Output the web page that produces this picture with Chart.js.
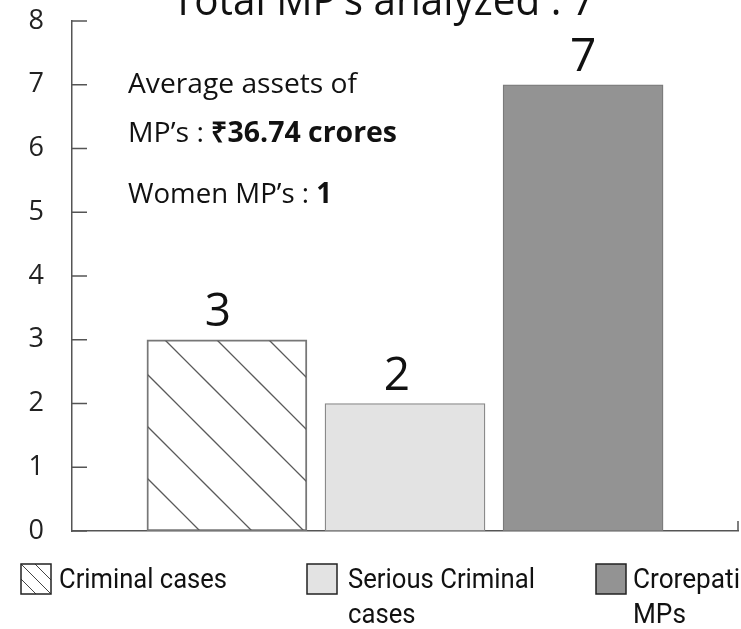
<!DOCTYPE html>
<html>
<head>
<meta charset="utf-8">
<script src="https://cdn.jsdelivr.net/npm/chart.js@4.4.1/dist/chart.umd.min.js"></script>
<style>
html, body { margin: 0; padding: 0; background: #fff; }
#wrap { width: 741px; height: 629px; }
</style>
</head>
<body>
<div id="wrap"><canvas id="chart" width="741" height="629"></canvas></div>
<script>
const categories = ['Criminal cases', 'Serious Criminal cases', 'Crorepati MPs'];
const values = [3, 2, 7];
const yTicks = [0, 1, 2, 3, 4, 5, 6, 7, 8];
const legendLines = [['Criminal cases'], ['Serious Criminal', 'cases'], ['Crorepati', 'MPs']];
const titleText = 'Total MP’s analyzed : 7';
const noteLines = [
    [['Average assets of', false]],
    [['MP’s : ', false], ['₹36.74 crores', true]],
    [['Women MP’s : ', false], ['1', true]]
];

// diagonal hatch tile, lines where (x - y) mod step == off
function makeHatch(step, off, color) {
    const c = document.createElement('canvas');
    c.width = step;
    c.height = step;
    const g = c.getContext('2d');
    g.strokeStyle = color;
    g.lineWidth = 1.3;
    g.beginPath();
    for (let k = -2; k <= 2; k++) {
        const b = off + k * step;
        g.moveTo(b - 5, -5);
        g.lineTo(b + step + 5, step + 5);
    }
    g.stroke();
    return g.createPattern(c, 'repeat');
}

const ctx = document.getElementById('chart');
const hatchFill = makeHatch(52, 33, '#5a5a5a');
const fills = [hatchFill, '#e3e3e3', '#939393'];

// draw runs of text squeezed/stretched to a given width
function fitText(g, runs, x, y, width, size, family) {
    let total = 0;
    runs.forEach(r => {
        g.font = (r[1] ? 'bold ' : '') + size + 'px "' + family + '"';
        total += g.measureText(r[0]).width;
    });
    const s = width ? width / total : 1;
    g.save();
    g.translate(x, y);
    g.scale(s, 1);
    let cx = 0;
    runs.forEach(r => {
        g.font = (r[1] ? 'bold ' : '') + size + 'px "' + family + '"';
        g.fillText(r[0], cx, 0);
        cx += g.measureText(r[0]).width;
    });
    g.restore();
    return s;
}

const extras = {
    id: 'extras',
    afterDraw(chart) {
        const g = chart.ctx;
        const area = chart.chartArea;
        const ys = chart.scales.y;
        g.save();

        // inner ticks on y axis
        g.strokeStyle = '#555';
        g.lineWidth = 1.5;
        g.beginPath();
        yTicks.forEach(v => {
            const py = ys.getPixelForValue(v);
            g.moveTo(area.left, py);
            g.lineTo(area.left + 15, py);
        });
        g.moveTo(area.right, area.bottom);
        g.lineTo(area.right, area.bottom - 10);
        g.stroke();

        g.fillStyle = '#111';
        g.textBaseline = 'alphabetic';
        g.textAlign = 'left';

        // bar values
        const shift = [-9, -8, 0];
        chart.getDatasetMeta(0).data.forEach((bar, i) => {
            g.font = '46px "Open Sans"';
            g.textAlign = 'center';
            g.fillText(String(values[i]), bar.x + shift[i], bar.y - 14);
        });
        g.textAlign = 'left';

        // title (cut by top edge)
        fitText(g, [[titleText, false]], 172, 15, 423, 44, 'Open Sans');

        // notes
        fitText(g, noteLines[0], 128, 93, 229, 28, 'Open Sans');
        fitText(g, noteLines[1], 128, 142, 269, 28, 'Open Sans');
        fitText(g, noteLines[2], 128, 203, 204, 28, 'Open Sans');

        // legend
        const boxX = [21, 307, 596];
        const textX = [59, 348, 633];
        const textW = [168, 187, 107];
        legendLines.forEach((lines, i) => {
            const bx = boxX[i], by = 564, bs = 30;
            if (i === 0) {
                g.fillStyle = '#fff';
                g.fillRect(bx, by, bs, bs);
                g.save();
                g.beginPath();
                g.rect(bx, by, bs, bs);
                g.clip();
                g.strokeStyle = '#444';
                g.lineWidth = 1;
                g.beginPath();
                [-15, 0, 14].forEach(o => {
                    g.moveTo(bx + o, by);
                    g.lineTo(bx + o + bs, by + bs);
                });
                g.stroke();
                g.restore();
            } else {
                g.fillStyle = fills[i];
                g.fillRect(bx, by, bs, bs);
            }
            g.strokeStyle = '#222';
            g.lineWidth = 1.5;
            g.strokeRect(bx, by, bs, bs);

            g.fillStyle = '#111';
            const s = fitText(g, [[lines[0], false]], textX[i], 588, textW[i], 28, 'Roboto');
            if (lines[1]) {
                g.save();
                g.font = '28px "Roboto"';
                g.translate(textX[i], 623);
                g.scale(s, 1);
                g.fillText(lines[1], 0, 0);
                g.restore();
            }
        });

        g.restore();
    }
};

new Chart(ctx, {
    type: 'bar',
    data: {
        datasets: [{
            data: categories.map((c, i) => ({ x: i, y: values[i] })),
            backgroundColor: fills,
            borderColor: ['#777', '#888', '#7a7a7a'],
            borderWidth: 1.3,
            borderSkipped: false,
            barThickness: 160
        }]
    },
    options: {
        responsive: false,
        animation: false,
        devicePixelRatio: 1,
        layout: { padding: { top: 21, right: 3, left: 0, bottom: 0 } },
        plugins: {
            legend: { display: false },
            tooltip: { enabled: false }
        },
        scales: {
            x: {
                type: 'linear',
                min: -0.87,
                max: 2.87,
                offset: false,
                grid: { display: false },
                ticks: { display: false },
                border: { color: '#555', width: 1.5 },
                afterFit: s => { s.height = 98; s.paddingLeft = 0; s.paddingRight = 0; }
            },
            y: {
                min: 0,
                max: 8,
                grid: { display: false, drawTicks: false },
                border: { color: '#555', width: 1.5 },
                ticks: {
                    stepSize: 1,
                    padding: 28,
                    color: '#222',
                    font: { family: 'Open Sans', size: 27 }
                },
                afterBuildTicks: s => { s.ticks = yTicks.map(v => ({ value: v })); },
                afterFit: s => { s.width = 72; s.paddingTop = 0; s.paddingBottom = 0; }
            }
        }
    },
    plugins: [extras]
});
</script>
</body>
</html>
